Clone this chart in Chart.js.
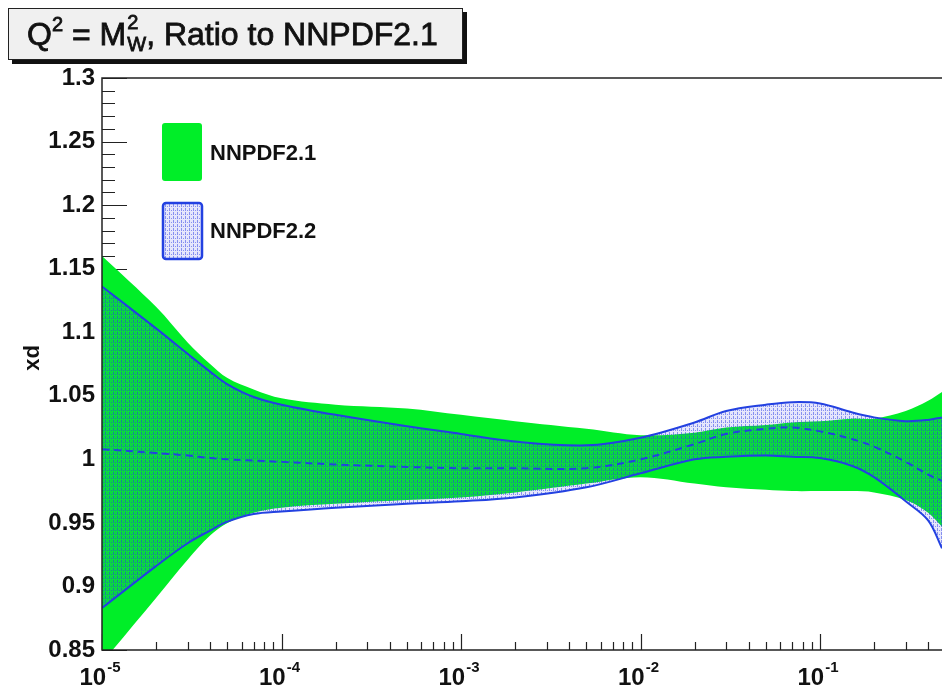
<!DOCTYPE html>
<html>
<head>
<meta charset="utf-8">
<script src="https://cdn.jsdelivr.net/npm/chart.js@4.4.0/dist/chart.umd.min.js"></script>
<style>
  body { margin: 0; background: #fff; }
  #wrap { position: relative; width: 942px; height: 689px; overflow: hidden; }
  #title {
    position: absolute; left: 8px; top: 8px; width: 455px; height: 52px;
    box-sizing: border-box; border: 1.5px solid #222; background: #f0f0f0;
    box-shadow: 4px 4px 0 #111;
    font-family: "Liberation Sans", Arial, sans-serif; font-size: 32px; color: #111;
    -webkit-text-stroke: 0.8px #111;
    padding-left: 18px; line-height: 50px; white-space: nowrap;
  }
  #title .sup { font-size: 20px; position: relative; top: -14px; }
  #title .stack { display: inline-block; position: relative; width: 20px; height: 33px; }
  #title .stack span { position: absolute; left: 1px; font-size: 20px; line-height: 20px; }
  #title .up { top: 0; }
  #title .dn { top: 22px; }
</style>
</head>
<body>
<div id="wrap">
  <canvas id="c" width="942" height="689"></canvas>
  <div id="title">Q<span class="sup">2</span> = M<span class="stack"><span class="up">2</span><span class="dn">W</span></span>, Ratio to NNPDF2.1</div>
</div>
<script>
// x grid shared by all curves
const xs = [1e-5, 2e-5, 3e-5, 4e-5, 5e-5, 7e-5, 1e-4, 2e-4, 5e-4, 1e-3, 2e-3, 5e-3,
            1e-2, 2e-2, 3e-2, 5e-2, 7e-2, 0.1, 0.15, 0.2, 0.3, 0.4, 0.478];

// NNPDF2.1 band (ratio to itself)
const greenUp = [1.160, 1.120, 1.092, 1.075, 1.064, 1.055, 1.048, 1.043, 1.040, 1.035, 1.030, 1.024,
                 1.019, 1.021, 1.025, 1.027, 1.029, 1.030, 1.032, 1.032, 1.038, 1.046, 1.053];
const greenLo = [0.840, 0.891, 0.921, 0.940, 0.950, 0.958, 0.962, 0.965, 0.968, 0.970, 0.974, 0.981,
                 0.986, 0.981, 0.978, 0.976, 0.975, 0.975, 0.975, 0.974, 0.968, 0.958, 0.947];

// NNPDF2.2 band and central value
const blueUp = [1.136, 1.103, 1.083, 1.069, 1.059, 1.049, 1.043, 1.035, 1.026, 1.020, 1.014, 1.011,
                1.017, 1.029, 1.038, 1.043, 1.045, 1.044, 1.037, 1.033, 1.030, 1.031, 1.033];
const blueMid = [1.008, 1.005, 1.003, 1.001, 1.000, 0.999, 0.998, 0.996, 0.994, 0.993, 0.993, 0.993,
                 1.000, 1.012, 1.020, 1.024, 1.025, 1.022, 1.016, 1.010, 0.998, 0.988, 0.983];
const blueLo = [0.883, 0.916, 0.934, 0.944, 0.951, 0.957, 0.959, 0.962, 0.965, 0.967, 0.970, 0.978,
                0.989, 1.000, 1.002, 1.003, 1.002, 1.001, 0.995, 0.986, 0.967, 0.952, 0.930];

const decades = [1e-5, 1e-4, 1e-3, 1e-2, 1e-1];
const decadeExp = ['-5', '-4', '-3', '-2', '-1'];
const yMin = 0.85, yMax = 1.3, yStep = 0.05;

const legendNames = ['NNPDF2.1', 'NNPDF2.2'];

const GREEN = 'rgb(0,238,40)';
const BLUE = 'rgb(35,65,225)';
const FONT = '"Liberation Sans", Arial, sans-serif';

function makeHatch() {
    const c = document.createElement('canvas');
    c.width = 4; c.height = 4;
    const p = c.getContext('2d');
    p.fillStyle = 'rgba(70,80,235,0.14)';
    p.fillRect(0, 0, 4, 4);
    p.fillStyle = 'rgba(40,60,230,0.5)';
    p.fillRect(1, 0, 1, 3);
    p.fillRect(3, 2, 1, 1);
    return p.createPattern(c, 'repeat');
}
const hatch = makeHatch();

function pts(arr) {
    return xs.map((x, i) => ({ x: x, y: arr[i] }));
}

const rootAxes = {
    id: 'rootAxes',
    beforeDraw(chart) {
        // ticks inside the frame, drawn under the bands
        const ctx = chart.ctx;
        const a = chart.chartArea;
        const xs_ = chart.scales.x, ys_ = chart.scales.y;
        ctx.save();
        ctx.strokeStyle = '#222';
        ctx.lineWidth = 1.2;
        ctx.beginPath();
        for (let i = 0; i <= 45; i++) {
            const v = yMin + i * 0.01;
            const py = Math.round(ys_.getPixelForValue(v)) + 0.5;
            const len = i % 5 === 0 ? 25 : 13;
            ctx.moveTo(a.left, py);
            ctx.lineTo(a.left + len, py);
        }
        for (let d = -5; d <= 0; d++) {
            for (let k = 1; k <= 9; k++) {
                const v = k * Math.pow(10, d);
                if (v > xs_.max) break;
                const px = Math.round(xs_.getPixelForValue(v)) + 0.5;
                const len = k === 1 ? 16 : 8;
                ctx.moveTo(px, a.bottom);
                ctx.lineTo(px, a.bottom - len);
            }
        }
        ctx.stroke();
        ctx.restore();
    },
    afterDatasetsDraw(chart) {
        const ctx = chart.ctx;
        const a = chart.chartArea;
        ctx.save();
        ctx.strokeStyle = '#222';
        ctx.lineWidth = 1.5;
        ctx.beginPath();
        ctx.moveTo(a.right + 2, a.top);
        ctx.lineTo(a.left, a.top);
        ctx.lineTo(a.left, a.bottom);
        ctx.lineTo(a.right + 2, a.bottom);
        ctx.stroke();
        ctx.restore();
    },
    afterDraw(chart) {
        const ctx = chart.ctx;
        const a = chart.chartArea;
        const xScale = chart.scales.x;
        ctx.save();
        ctx.fillStyle = '#111';
        ctx.textBaseline = 'alphabetic';
        ctx.textAlign = 'left';

        // x labels 10^n
        decades.forEach((v, i) => {
            const px = xScale.getPixelForValue(v);
            ctx.font = 'bold 24px ' + FONT;
            const w1 = ctx.measureText('10').width;
            ctx.font = 'bold 15px ' + FONT;
            const w2 = ctx.measureText(decadeExp[i]).width;
            const x0 = px - (w1 + w2 + 1) / 2 - 2;
            ctx.font = 'bold 24px ' + FONT;
            ctx.fillText('10', x0, a.bottom + 35);
            ctx.font = 'bold 15px ' + FONT;
            ctx.fillText(decadeExp[i], x0 + w1 + 1, a.bottom + 22);
        });

        // y axis title
        ctx.save();
        ctx.translate(39, 358);
        ctx.rotate(-Math.PI / 2);
        ctx.textAlign = 'center';
        ctx.font = 'bold 22px ' + FONT;
        ctx.fillText('xd', 0, 0);
        ctx.restore();

        // legend
        ctx.fillStyle = GREEN;
        ctx.beginPath();
        ctx.roundRect(162, 123, 40, 58, 3);
        ctx.fill();

        ctx.fillStyle = hatch;
        ctx.beginPath();
        ctx.roundRect(163, 203, 39, 56, 3);
        ctx.fill();
        ctx.strokeStyle = BLUE;
        ctx.lineWidth = 2.5;
        ctx.stroke();

        ctx.fillStyle = '#111';
        ctx.font = 'bold 22px ' + FONT;
        ctx.fillText(legendNames[0], 210, 160);
        ctx.fillText(legendNames[1], 210, 238);
        ctx.restore();
    }
};

new Chart('c', {
    type: 'line',
    data: {
        datasets: [
            {
                label: 'NNPDF2.2 central',
                data: pts(blueMid),
                borderColor: BLUE,
                borderWidth: 2,
                borderDash: [7, 5],
                fill: false
            },
            {
                label: 'NNPDF2.2',
                data: pts(blueUp),
                borderColor: BLUE,
                borderWidth: 2,
                backgroundColor: hatch,
                fill: '+1'
            },
            {
                label: 'NNPDF2.2 low',
                data: pts(blueLo),
                borderColor: BLUE,
                borderWidth: 2,
                fill: false
            },
            {
                label: 'NNPDF2.1',
                data: pts(greenUp),
                borderColor: 'transparent',
                borderWidth: 0,
                backgroundColor: GREEN,
                fill: '+1'
            },
            {
                label: 'NNPDF2.1 low',
                data: pts(greenLo),
                borderColor: 'transparent',
                borderWidth: 0,
                fill: false
            }
        ]
    },
    options: {
        responsive: false,
        animation: false,
        layout: { padding: { top: 78, right: 0, left: 0, bottom: 0 } },
        elements: {
            point: { radius: 0 },
            line: { tension: 0.35 }
        },
        plugins: {
            legend: { display: false },
            tooltip: { enabled: false },
            filler: { drawTime: 'beforeDatasetsDraw' }
        },
        scales: {
            x: {
                type: 'logarithmic',
                min: 1e-5,
                max: 0.478,
                grid: { display: false },
                border: { display: false },
                ticks: { display: false },
                afterFit: (scale) => { scale.height = 39; }
            },
            y: {
                min: yMin,
                max: yMax,
                grid: { display: false, drawTicks: false },
                border: { display: false },
                ticks: {
                    stepSize: yStep,
                    padding: 7,
                    color: '#111',
                    font: { family: FONT, size: 24, weight: 'bold' },
                    callback: (v) => String(+v.toFixed(2))
                },
                afterFit: (scale) => { scale.width = 102; }
            }
        }
    },
    plugins: [rootAxes]
});
</script>
</body>
</html>
